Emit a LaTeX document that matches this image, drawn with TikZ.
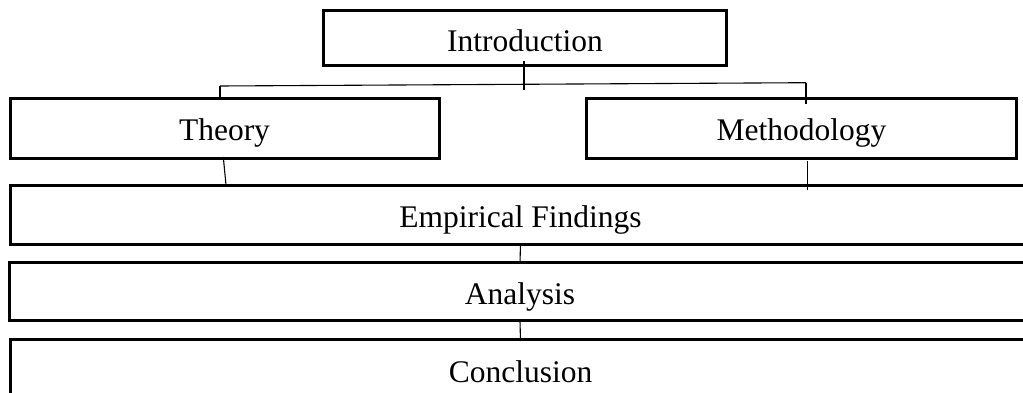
\documentclass[tikz,border=0pt]{standalone}
\usepackage{fontspec}
\setmainfont{Liberation Serif}
\begin{document}
\begin{tikzpicture}[x=1pt,y=-1pt,
  box/.style={draw=black,line width=3pt,rectangle,inner sep=0pt,outer sep=0pt,
    font=\fontsize{31.5}{36}\selectfont,text height=25pt,text depth=0pt},
  link/.style={draw=black,line width=1.1pt}]
\useasboundingbox (0,0) rectangle (1023,393);
\clip (0,0) rectangle (1023,393);

% top level
\node[box,minimum width=403pt,minimum height=55pt,text height=28pt] (intro) at (525,38) {Introduction};

% second level
\node[box,minimum width=429pt,minimum height=60pt] (theory) at (224.5,128.5) {Theory};
\node[box,minimum width=430pt,minimum height=60.5pt] (meth) at (801.5,128.3) {Methodology};

% full-width stages
\node[box,minimum width=1021pt,minimum height=58.7pt] (emp) at (520.5,215.3) {Empirical Findings};
\node[box,minimum width=1022pt,minimum height=58.5pt] (ana) at (520,291.7) {Analysis};
\node[box,minimum width=1021pt,minimum height=60pt] (concl) at (520.5,369.5) {Conclusion};

% branch from the introduction
\coordinate (jl) at (220,86);
\coordinate (jr) at (806,82.7);
\draw[link] ([xshift=-1pt,yshift=4.5pt]intro.south) -- ++(0,29);
\draw[link] (jl) -- (jr);
\draw[link] (jl) -- ++(0,14);
\draw[link] (jr) -- ++(0,21.5);

% joins into the empirical findings
\draw[link] ([xshift=-1.2pt,yshift=1.5pt]theory.south) -- ([xshift=1.5pt,yshift=1pt]theory.south |- emp.north);
\draw[link] ([xshift=6.2pt,yshift=-2.5pt]meth.south) -- ([xshift=6.2pt,yshift=-4pt]meth.south |- emp.north);

% chain down
\draw[link] (emp.south) -- (ana.north);
\draw[link] (ana.south) -- ([yshift=-1.5pt]concl.north);
\end{tikzpicture}
\end{document}
